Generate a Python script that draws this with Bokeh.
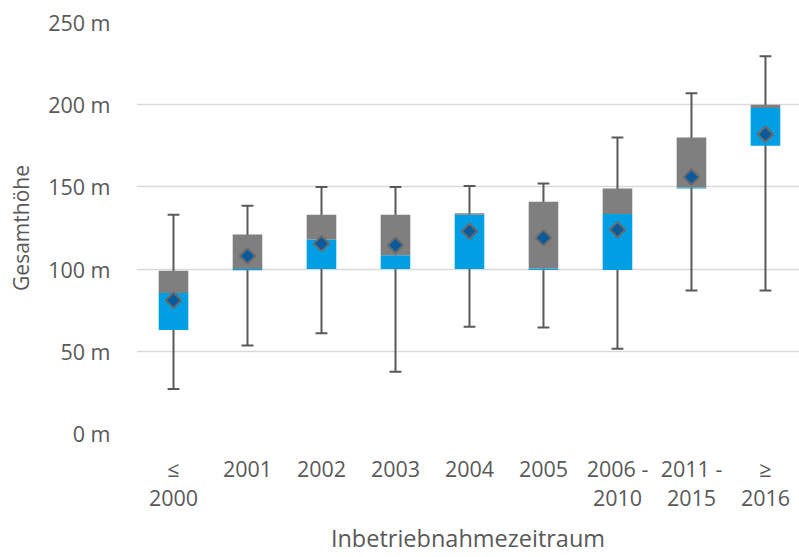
from bokeh.plotting import figure
from bokeh.models import FixedTicker, PrintfTickFormatter, Range1d, ColumnDataSource
from bokeh.embed import file_html
from bokeh.resources import INLINE

categories = ["≤\n2000", "2001", "2002", "2003", "2004", "2005",
              "2006 -\n2010", "2011 -\n2015", "≥\n2016"]
minimum = [27, 53.5, 61, 37.5, 65, 64.5, 51.5, 87, 87]
q1 = [63, 99.3, 100, 100, 100, 99.5, 99.5, 149, 175]
median = [85.5, 100, 118, 108.5, 133, 100.3, 133.5, 149.7, 198]
q3 = [99, 121, 133, 133, 134, 141, 149, 180, 200]
maximum = [133, 138.5, 150, 150, 150.5, 152, 180, 207, 229.5]
mean = [81, 108, 115.5, 114.5, 123, 119, 124, 156, 182]
y_ticks = [0, 50, 100, 150, 200, 250]

xs = [i + 0.5 for i in range(len(categories))]
cap = 0.08
src = ColumnDataSource(dict(
    x=xs, x0=[x - cap for x in xs], x1=[x + cap for x in xs],
    mn=minimum, q1=q1, med=median, q3=q3, mx=maximum, mean=mean))

TEXT = "#595959"
FONT = "Open Sans"

p = figure(width=799, height=557, output_backend="svg", toolbar_location=None,
           x_range=Range1d(0, 8.96), y_range=Range1d(0, 250),
           min_border_left=136, min_border_right=0, min_border_top=22,
           min_border_bottom=123)
p.outline_line_color = None

# whiskers
p.segment("x", "mn", "x", "mx", source=src, line_color="#595959", line_width=2)
p.segment("x0", "mx", "x1", "mx", source=src, line_color="#595959", line_width=2)
p.segment("x0", "mn", "x1", "mn", source=src, line_color="#595959", line_width=2)

# boxes
p.vbar(x="x", bottom="q1", top="med", width=0.4, source=src,
       fill_color="#009FE3", line_color=None)
p.vbar(x="x", bottom="med", top="q3", width=0.4, source=src,
       fill_color="#7F7F7F", line_color=None)

# mean
p.scatter(x="x", y="mean", source=src, marker="square", angle=0.785398,
          size=11, fill_color="#0B5A9C", line_color="#6B6B6B", line_width=2)

# axes
p.xgrid.grid_line_color = None
p.ygrid.grid_line_color = "#D9D9D9"
p.ygrid.grid_line_width = 1.5
p.yaxis.ticker = FixedTicker(ticks=y_ticks)
p.yaxis.formatter = PrintfTickFormatter(format="%d m")
p.xaxis.ticker = FixedTicker(ticks=xs)
p.xaxis.major_label_overrides = {x: c for x, c in zip(xs, categories)}

for ax in (p.xaxis[0], p.yaxis[0]):
    ax.axis_line_color = None
    ax.major_tick_line_color = None
    ax.minor_tick_line_color = None
    ax.major_tick_out = 0
    ax.major_tick_in = 0
    ax.major_label_text_color = TEXT
    ax.major_label_text_font = FONT
    ax.major_label_text_font_size = "21.5px"
    ax.axis_label_text_color = TEXT
    ax.axis_label_text_font = FONT
    ax.axis_label_text_font_style = "normal"

p.xaxis.axis_label = "Inbetriebnahmezeitraum"
p.yaxis.axis_label = "Gesamthöhe"
p.xaxis.axis_label_text_font_size = "23.5px"
p.yaxis.axis_label_text_font_size = "21px"
p.xaxis.major_label_standoff = 20
p.xaxis.major_label_text_line_height = 1.03
p.xaxis.axis_label_standoff = 7
p.yaxis.major_label_standoff = 26
p.yaxis.axis_label_standoff = 10

open("out.html", "w").write(file_html(p, INLINE))
